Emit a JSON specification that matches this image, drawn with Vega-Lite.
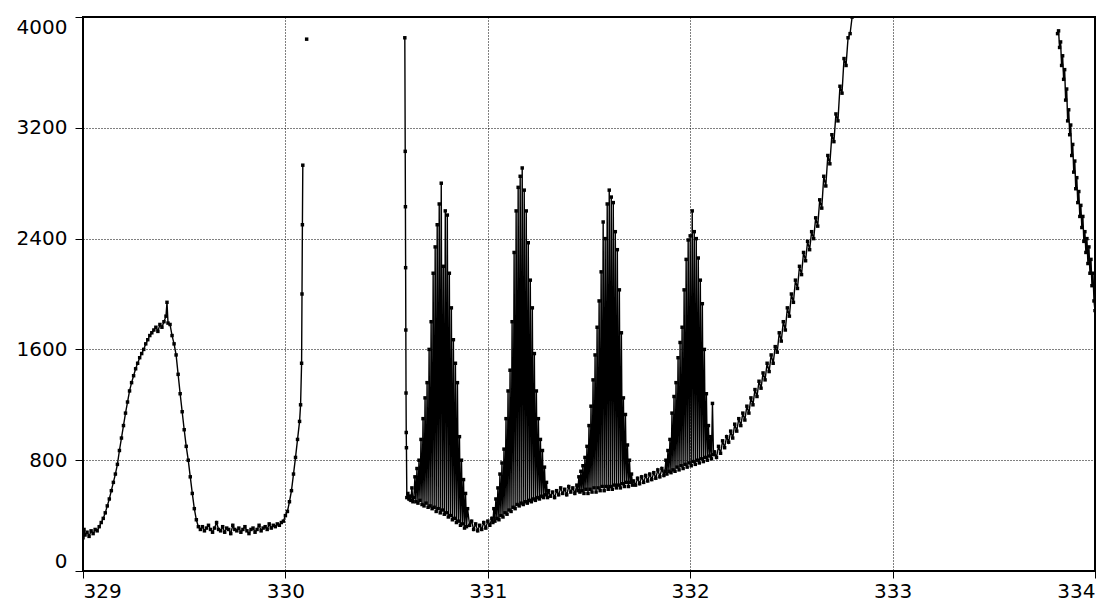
{
"$schema": "https://vega.github.io/schema/vega-lite/v6.json",
"width": 1012,
"height": 554,
"autosize": {"type": "none"},
"padding": {"left": 83, "top": 17, "right": 23, "bottom": 34},
"background": "white",
"config": {
  "view": {"stroke": "black", "strokeWidth": 2},
  "axis": {
    "domain": false,
    "grid": true,
    "gridColor": "black",
    "gridDash": [1, 2],
    "gridWidth": 1,
    "gridOpacity": 1,
    "tickColor": "black",
    "tickWidth": 1,
    "labelColor": "black",
    "labelFont": "DejaVu Sans",
    "labelFontSize": 20,
    "title": null
  }
},
"data": {"values": [
{"x":329.00,"y":240,"s":1},{"x":329.005,"y":300,"s":1},{"x":329.01,"y":260,"s":1},{"x":329.02,"y":280,"s":1},{"x":329.03,"y":250,"s":1},{"x":329.04,"y":290,"s":1},{"x":329.05,"y":270,"s":1},{"x":329.06,"y":300,"s":1},{"x":329.07,"y":290,"s":1},{"x":329.08,"y":320,"s":1},{"x":329.09,"y":350,"s":1},{"x":329.10,"y":380,"s":1},{"x":329.11,"y":420,"s":1},{"x":329.12,"y":470,"s":1},{"x":329.13,"y":520,"s":1},{"x":329.14,"y":580,"s":1},{"x":329.15,"y":640,"s":1},{"x":329.16,"y":700,"s":1},{"x":329.17,"y":770,"s":1},{"x":329.18,"y":870,"s":1},{"x":329.19,"y":960,"s":1},{"x":329.20,"y":1050,"s":1},{"x":329.21,"y":1140,"s":1},{"x":329.22,"y":1220,"s":1},{"x":329.23,"y":1300,"s":1},{"x":329.24,"y":1360,"s":1},{"x":329.25,"y":1410,"s":1},{"x":329.26,"y":1460,"s":1},{"x":329.27,"y":1500,"s":1},{"x":329.28,"y":1540,"s":1},{"x":329.29,"y":1570,"s":1},{"x":329.30,"y":1600,"s":1},{"x":329.31,"y":1640,"s":1},{"x":329.32,"y":1670,"s":1},{"x":329.33,"y":1700,"s":1},{"x":329.34,"y":1720,"s":1},{"x":329.35,"y":1740,"s":1},{"x":329.36,"y":1760,"s":1},{"x":329.37,"y":1730,"s":1},{"x":329.38,"y":1780,"s":1},{"x":329.39,"y":1760,"s":1},{"x":329.40,"y":1800,"s":1},{"x":329.41,"y":1840,"s":1},{"x":329.415,"y":1940,"s":1},{"x":329.42,"y":1790,"s":1},{"x":329.43,"y":1780,"s":1},{"x":329.44,"y":1700,"s":1},{"x":329.45,"y":1640,"s":1},{"x":329.46,"y":1560,"s":1},{"x":329.47,"y":1420,"s":1},{"x":329.48,"y":1280,"s":1},{"x":329.49,"y":1150,"s":1},{"x":329.50,"y":1020,"s":1},{"x":329.51,"y":900,"s":1},{"x":329.52,"y":800,"s":1},{"x":329.53,"y":680,"s":1},{"x":329.54,"y":560,"s":1},{"x":329.55,"y":450,"s":1},{"x":329.56,"y":370,"s":1},{"x":329.57,"y":320,"s":1},{"x":329.58,"y":300,"s":1},{"x":329.59,"y":320,"s":1},{"x":329.60,"y":290,"s":1},{"x":329.61,"y":310,"s":1},{"x":329.62,"y":330,"s":1},{"x":329.63,"y":300,"s":1},{"x":329.64,"y":280,"s":1},{"x":329.65,"y":310,"s":1},{"x":329.66,"y":350,"s":1},{"x":329.67,"y":300,"s":1},{"x":329.68,"y":290,"s":1},{"x":329.69,"y":320,"s":1},{"x":329.70,"y":280,"s":1},{"x":329.71,"y":310,"s":1},{"x":329.72,"y":300,"s":1},{"x":329.73,"y":270,"s":1},{"x":329.74,"y":330,"s":1},{"x":329.75,"y":300,"s":1},{"x":329.76,"y":290,"s":1},{"x":329.77,"y":310,"s":1},{"x":329.78,"y":280,"s":1},{"x":329.79,"y":300,"s":1},{"x":329.80,"y":320,"s":1},{"x":329.81,"y":290,"s":1},{"x":329.82,"y":270,"s":1},{"x":329.83,"y":300,"s":1},{"x":329.84,"y":310,"s":1},{"x":329.85,"y":280,"s":1},{"x":329.86,"y":300,"s":1},{"x":329.87,"y":330,"s":1},{"x":329.88,"y":290,"s":1},{"x":329.89,"y":310,"s":1},{"x":329.90,"y":320,"s":1},{"x":329.91,"y":300,"s":1},{"x":329.92,"y":340,"s":1},{"x":329.93,"y":310,"s":1},{"x":329.94,"y":330,"s":1},{"x":329.95,"y":320,"s":1},{"x":329.96,"y":340,"s":1},{"x":329.97,"y":330,"s":1},{"x":329.98,"y":350,"s":1},{"x":329.99,"y":360,"s":1},{"x":330.00,"y":400,"s":1},{"x":330.01,"y":430,"s":1},{"x":330.02,"y":500,"s":1},{"x":330.03,"y":580,"s":1},{"x":330.04,"y":700,"s":1},{"x":330.05,"y":820,"s":1},{"x":330.06,"y":950,"s":1},{"x":330.07,"y":1080,"s":1},{"x":330.075,"y":1200,"s":1},{"x":330.08,"y":1500,"s":1},{"x":330.082,"y":2000,"s":1},{"x":330.084,"y":2500,"s":1},{"x":330.086,"y":2930,"s":1},
{"x":330.105,"y":3840,"s":2},
{"x":330.590,"y":3850,"s":3},{"x":330.592,"y":3030,"s":3},{"x":330.593,"y":2630,"s":3},{"x":330.594,"y":2190,"s":3},{"x":330.595,"y":1740,"s":3},{"x":330.596,"y":1285,"s":3},{"x":330.597,"y":1000,"s":3},{"x":330.598,"y":890,"s":3},{"x":330.600,"y":530,"s":3},{"x":330.605,"y":560,"s":3},{"x":330.61,"y":520,"s":3},{"x":330.615,"y":540,"s":3},{"x":330.62,"y":510,"s":3},{"x":330.625,"y":600,"s":3},{"x":330.63,"y":500,"s":3},{"x":330.635,"y":530,"s":3},
{"x":330.64,"y":680,"s":3},{"x":330.645,"y":500,"s":3},{"x":330.65,"y":740,"s":3},{"x":330.655,"y":490,"s":3},{"x":330.66,"y":800,"s":3},{"x":330.665,"y":510,"s":3},{"x":330.67,"y":950,"s":3},{"x":330.675,"y":480,"s":3},{"x":330.68,"y":1100,"s":3},{"x":330.685,"y":470,"s":3},{"x":330.69,"y":1250,"s":3},{"x":330.695,"y":490,"s":3},{"x":330.70,"y":1360,"s":3},{"x":330.705,"y":460,"s":3},{"x":330.71,"y":1600,"s":3},{"x":330.715,"y":470,"s":3},{"x":330.72,"y":1800,"s":3},{"x":330.725,"y":450,"s":3},{"x":330.73,"y":2150,"s":3},{"x":330.735,"y":460,"s":3},{"x":330.74,"y":2340,"s":3},{"x":330.745,"y":430,"s":3},{"x":330.75,"y":2500,"s":3},{"x":330.755,"y":450,"s":3},{"x":330.76,"y":2650,"s":3},{"x":330.765,"y":420,"s":3},{"x":330.77,"y":2800,"s":3},{"x":330.775,"y":440,"s":3},{"x":330.78,"y":2200,"s":3},{"x":330.785,"y":410,"s":3},{"x":330.79,"y":2600,"s":3},{"x":330.795,"y":420,"s":3},{"x":330.80,"y":2570,"s":3},{"x":330.805,"y":390,"s":3},{"x":330.81,"y":2150,"s":3},{"x":330.815,"y":400,"s":3},{"x":330.82,"y":1900,"s":3},{"x":330.825,"y":370,"s":3},{"x":330.83,"y":1670,"s":3},{"x":330.835,"y":380,"s":3},{"x":330.84,"y":1500,"s":3},{"x":330.845,"y":350,"s":3},{"x":330.85,"y":1360,"s":3},{"x":330.855,"y":360,"s":3},{"x":330.86,"y":970,"s":3},{"x":330.865,"y":330,"s":3},{"x":330.87,"y":800,"s":3},{"x":330.875,"y":340,"s":3},{"x":330.88,"y":660,"s":3},{"x":330.885,"y":310,"s":3},{"x":330.89,"y":560,"s":3},{"x":330.895,"y":320,"s":3},
{"x":330.90,"y":450,"s":3},{"x":330.91,"y":330,"s":3},{"x":330.92,"y":360,"s":3},{"x":330.93,"y":300,"s":3},{"x":330.94,"y":340,"s":3},{"x":330.95,"y":290,"s":3},{"x":330.96,"y":330,"s":3},{"x":330.97,"y":300,"s":3},{"x":330.98,"y":350,"s":3},{"x":330.99,"y":310,"s":3},{"x":331.00,"y":360,"s":3},{"x":331.01,"y":330,"s":3},{"x":331.02,"y":380,"s":3},{"x":331.025,"y":350,"s":3},
{"x":331.03,"y":450,"s":3},{"x":331.035,"y":360,"s":3},{"x":331.04,"y":520,"s":3},{"x":331.045,"y":380,"s":3},{"x":331.05,"y":600,"s":3},{"x":331.055,"y":370,"s":3},{"x":331.06,"y":700,"s":3},{"x":331.065,"y":400,"s":3},{"x":331.07,"y":780,"s":3},{"x":331.075,"y":390,"s":3},{"x":331.08,"y":880,"s":3},{"x":331.085,"y":420,"s":3},{"x":331.09,"y":1100,"s":3},{"x":331.095,"y":410,"s":3},{"x":331.10,"y":1300,"s":3},{"x":331.105,"y":440,"s":3},{"x":331.11,"y":1450,"s":3},{"x":331.115,"y":430,"s":3},{"x":331.12,"y":1800,"s":3},{"x":331.125,"y":460,"s":3},{"x":331.13,"y":2300,"s":3},{"x":331.135,"y":450,"s":3},{"x":331.14,"y":2600,"s":3},{"x":331.145,"y":480,"s":3},{"x":331.15,"y":2770,"s":3},{"x":331.155,"y":470,"s":3},{"x":331.16,"y":2850,"s":3},{"x":331.165,"y":490,"s":3},{"x":331.17,"y":2910,"s":3},{"x":331.175,"y":480,"s":3},{"x":331.18,"y":2750,"s":3},{"x":331.185,"y":500,"s":3},{"x":331.19,"y":2600,"s":3},{"x":331.195,"y":490,"s":3},{"x":331.20,"y":2370,"s":3},{"x":331.205,"y":510,"s":3},{"x":331.21,"y":2100,"s":3},{"x":331.215,"y":500,"s":3},{"x":331.22,"y":1900,"s":3},{"x":331.225,"y":520,"s":3},{"x":331.23,"y":1570,"s":3},{"x":331.235,"y":510,"s":3},{"x":331.24,"y":1300,"s":3},{"x":331.245,"y":530,"s":3},{"x":331.25,"y":1100,"s":3},{"x":331.255,"y":520,"s":3},{"x":331.26,"y":950,"s":3},{"x":331.265,"y":540,"s":3},{"x":331.27,"y":870,"s":3},{"x":331.275,"y":530,"s":3},{"x":331.28,"y":750,"s":3},{"x":331.285,"y":550,"s":3},{"x":331.29,"y":640,"s":3},{"x":331.295,"y":530,"s":3},
{"x":331.30,"y":580,"s":3},{"x":331.31,"y":540,"s":3},{"x":331.32,"y":570,"s":3},{"x":331.33,"y":530,"s":3},{"x":331.34,"y":580,"s":3},{"x":331.35,"y":550,"s":3},{"x":331.36,"y":600,"s":3},{"x":331.37,"y":560,"s":3},{"x":331.38,"y":590,"s":3},{"x":331.39,"y":550,"s":3},{"x":331.40,"y":610,"s":3},{"x":331.41,"y":570,"s":3},{"x":331.42,"y":600,"s":3},{"x":331.43,"y":560,"s":3},{"x":331.44,"y":620,"s":3},{"x":331.445,"y":580,"s":3},
{"x":331.45,"y":680,"s":3},{"x":331.455,"y":570,"s":3},{"x":331.46,"y":720,"s":3},{"x":331.465,"y":580,"s":3},{"x":331.47,"y":760,"s":3},{"x":331.475,"y":560,"s":3},{"x":331.48,"y":820,"s":3},{"x":331.485,"y":590,"s":3},{"x":331.49,"y":900,"s":3},{"x":331.495,"y":560,"s":3},{"x":331.50,"y":1050,"s":3},{"x":331.505,"y":590,"s":3},{"x":331.51,"y":1190,"s":3},{"x":331.515,"y":570,"s":3},{"x":331.52,"y":1380,"s":3},{"x":331.525,"y":600,"s":3},{"x":331.53,"y":1560,"s":3},{"x":331.535,"y":570,"s":3},{"x":331.54,"y":1760,"s":3},{"x":331.545,"y":600,"s":3},{"x":331.55,"y":1950,"s":3},{"x":331.555,"y":580,"s":3},{"x":331.56,"y":2160,"s":3},{"x":331.565,"y":610,"s":3},{"x":331.57,"y":2520,"s":3},{"x":331.575,"y":580,"s":3},{"x":331.58,"y":2400,"s":3},{"x":331.585,"y":610,"s":3},{"x":331.59,"y":2650,"s":3},{"x":331.595,"y":590,"s":3},{"x":331.60,"y":2750,"s":3},{"x":331.605,"y":610,"s":3},{"x":331.61,"y":2700,"s":3},{"x":331.615,"y":590,"s":3},{"x":331.62,"y":2660,"s":3},{"x":331.625,"y":620,"s":3},{"x":331.63,"y":2450,"s":3},{"x":331.635,"y":600,"s":3},{"x":331.64,"y":2320,"s":3},{"x":331.645,"y":620,"s":3},{"x":331.65,"y":2030,"s":3},{"x":331.655,"y":600,"s":3},{"x":331.66,"y":1720,"s":3},{"x":331.665,"y":630,"s":3},{"x":331.67,"y":1250,"s":3},{"x":331.675,"y":610,"s":3},{"x":331.68,"y":1130,"s":3},{"x":331.685,"y":640,"s":3},{"x":331.69,"y":910,"s":3},{"x":331.695,"y":610,"s":3},{"x":331.70,"y":800,"s":3},{"x":331.705,"y":640,"s":3},{"x":331.71,"y":700,"s":3},{"x":331.715,"y":620,"s":3},
{"x":331.72,"y":650,"s":3},{"x":331.73,"y":620,"s":3},{"x":331.74,"y":670,"s":3},{"x":331.75,"y":630,"s":3},{"x":331.76,"y":680,"s":3},{"x":331.77,"y":640,"s":3},{"x":331.78,"y":690,"s":3},{"x":331.79,"y":650,"s":3},{"x":331.80,"y":700,"s":3},{"x":331.81,"y":660,"s":3},{"x":331.82,"y":710,"s":3},{"x":331.83,"y":670,"s":3},{"x":331.84,"y":730,"s":3},{"x":331.85,"y":680,"s":3},{"x":331.86,"y":740,"s":3},{"x":331.87,"y":690,"s":3},{"x":331.875,"y":720,"s":3},
{"x":331.88,"y":800,"s":3},{"x":331.885,"y":700,"s":3},{"x":331.89,"y":870,"s":3},{"x":331.895,"y":720,"s":3},{"x":331.90,"y":950,"s":3},{"x":331.905,"y":710,"s":3},{"x":331.91,"y":1140,"s":3},{"x":331.915,"y":730,"s":3},{"x":331.92,"y":1260,"s":3},{"x":331.925,"y":720,"s":3},{"x":331.93,"y":1360,"s":3},{"x":331.935,"y":750,"s":3},{"x":331.94,"y":1540,"s":3},{"x":331.945,"y":730,"s":3},{"x":331.95,"y":1650,"s":3},{"x":331.955,"y":760,"s":3},{"x":331.96,"y":1760,"s":3},{"x":331.965,"y":740,"s":3},{"x":331.97,"y":2030,"s":3},{"x":331.975,"y":770,"s":3},{"x":331.98,"y":2250,"s":3},{"x":331.985,"y":750,"s":3},{"x":331.99,"y":2390,"s":3},{"x":331.995,"y":780,"s":3},{"x":332.00,"y":2420,"s":3},{"x":332.005,"y":760,"s":3},{"x":332.01,"y":2600,"s":3},{"x":332.015,"y":790,"s":3},{"x":332.02,"y":2450,"s":3},{"x":332.025,"y":770,"s":3},{"x":332.03,"y":2400,"s":3},{"x":332.035,"y":800,"s":3},{"x":332.04,"y":2260,"s":3},{"x":332.045,"y":780,"s":3},{"x":332.05,"y":2100,"s":3},{"x":332.055,"y":810,"s":3},{"x":332.06,"y":1930,"s":3},{"x":332.065,"y":790,"s":3},{"x":332.07,"y":1600,"s":3},{"x":332.075,"y":820,"s":3},{"x":332.08,"y":1280,"s":3},{"x":332.085,"y":800,"s":3},{"x":332.09,"y":1050,"s":3},{"x":332.095,"y":830,"s":3},{"x":332.10,"y":970,"s":3},{"x":332.105,"y":810,"s":3},{"x":332.11,"y":1210,"s":3},{"x":332.115,"y":840,"s":3},
{"x":332.12,"y":860,"s":3},{"x":332.13,"y":820,"s":3},{"x":332.14,"y":900,"s":3},{"x":332.15,"y":850,"s":3},{"x":332.16,"y":940,"s":3},{"x":332.17,"y":890,"s":3},{"x":332.18,"y":970,"s":3},{"x":332.19,"y":930,"s":3},{"x":332.20,"y":1010,"s":3},{"x":332.21,"y":960,"s":3},{"x":332.22,"y":1060,"s":3},{"x":332.23,"y":1010,"s":3},{"x":332.24,"y":1100,"s":3},{"x":332.25,"y":1050,"s":3},{"x":332.26,"y":1140,"s":3},{"x":332.27,"y":1090,"s":3},{"x":332.28,"y":1190,"s":3},{"x":332.29,"y":1140,"s":3},{"x":332.30,"y":1250,"s":3},{"x":332.31,"y":1200,"s":3},{"x":332.32,"y":1310,"s":3},{"x":332.33,"y":1260,"s":3},{"x":332.34,"y":1370,"s":3},{"x":332.35,"y":1320,"s":3},{"x":332.36,"y":1430,"s":3},{"x":332.37,"y":1380,"s":3},{"x":332.38,"y":1500,"s":3},{"x":332.39,"y":1440,"s":3},{"x":332.40,"y":1560,"s":3},{"x":332.41,"y":1500,"s":3},{"x":332.42,"y":1620,"s":3},{"x":332.43,"y":1580,"s":3},{"x":332.44,"y":1720,"s":3},{"x":332.45,"y":1660,"s":3},{"x":332.46,"y":1800,"s":3},{"x":332.47,"y":1740,"s":3},{"x":332.48,"y":1900,"s":3},{"x":332.49,"y":1840,"s":3},{"x":332.50,"y":2000,"s":3},{"x":332.51,"y":1940,"s":3},{"x":332.52,"y":2100,"s":3},{"x":332.53,"y":2040,"s":3},{"x":332.54,"y":2200,"s":3},{"x":332.55,"y":2140,"s":3},{"x":332.56,"y":2300,"s":3},{"x":332.57,"y":2240,"s":3},{"x":332.58,"y":2380,"s":3},{"x":332.59,"y":2320,"s":3},{"x":332.60,"y":2450,"s":3},{"x":332.61,"y":2400,"s":3},{"x":332.62,"y":2550,"s":3},{"x":332.63,"y":2490,"s":3},{"x":332.64,"y":2680,"s":3},{"x":332.65,"y":2620,"s":3},{"x":332.66,"y":2850,"s":3},{"x":332.67,"y":2780,"s":3},{"x":332.68,"y":3000,"s":3},{"x":332.69,"y":2940,"s":3},{"x":332.70,"y":3150,"s":3},{"x":332.71,"y":3100,"s":3},{"x":332.72,"y":3300,"s":3},{"x":332.73,"y":3250,"s":3},{"x":332.74,"y":3500,"s":3},{"x":332.75,"y":3450,"s":3},{"x":332.76,"y":3700,"s":3},{"x":332.77,"y":3650,"s":3},{"x":332.78,"y":3850,"s":3},{"x":332.79,"y":3880,"s":3},{"x":332.80,"y":4000,"s":3},
{"x":333.815,"y":3880,"s":4},{"x":333.82,"y":3900,"s":4},{"x":333.825,"y":3780,"s":4},{"x":333.83,"y":3820,"s":4},{"x":333.835,"y":3650,"s":4},{"x":333.84,"y":3720,"s":4},{"x":333.845,"y":3550,"s":4},{"x":333.85,"y":3620,"s":4},{"x":333.855,"y":3400,"s":4},{"x":333.86,"y":3480,"s":4},{"x":333.865,"y":3250,"s":4},{"x":333.87,"y":3330,"s":4},{"x":333.875,"y":3150,"s":4},{"x":333.88,"y":3220,"s":4},{"x":333.885,"y":3000,"s":4},{"x":333.89,"y":3080,"s":4},{"x":333.895,"y":2880,"s":4},{"x":333.90,"y":2960,"s":4},{"x":333.905,"y":2760,"s":4},{"x":333.91,"y":2840,"s":4},{"x":333.915,"y":2660,"s":4},{"x":333.92,"y":2740,"s":4},{"x":333.925,"y":2560,"s":4},{"x":333.93,"y":2640,"s":4},{"x":333.935,"y":2480,"s":4},{"x":333.94,"y":2560,"s":4},{"x":333.945,"y":2380,"s":4},{"x":333.95,"y":2450,"s":4},{"x":333.955,"y":2300,"s":4},{"x":333.96,"y":2400,"s":4},{"x":333.965,"y":2220,"s":4},{"x":333.97,"y":2340,"s":4},{"x":333.975,"y":2150,"s":4},{"x":333.98,"y":2250,"s":4},{"x":333.985,"y":2060,"s":4},{"x":333.99,"y":2150,"s":4},{"x":333.995,"y":1950,"s":4},{"x":334.00,"y":1880,"s":4}
]},
"mark": {
  "type": "line",
  "color": "black",
  "strokeWidth": 1.4,
  "clip": true,
  "point": {"shape": "square", "size": 12, "filled": true, "color": "black"}
},
"encoding": {
  "x": {
    "field": "x", "type": "quantitative",
    "scale": {"domain": [329, 334], "nice": false, "zero": false},
    "axis": {"values": [329, 330, 331, 332, 333, 334], "tickSize": 7, "labelPadding": 3, "format": "d"}
  },
  "y": {
    "field": "y", "type": "quantitative",
    "scale": {"domain": [0, 4000], "nice": false},
    "axis": {"values": [0, 800, 1600, 2400, 3200, 4000], "tickSize": 8, "labelPadding": 8, "labelFlush": true, "format": "d"}
  },
  "detail": {"field": "s", "type": "nominal"}
}
}
